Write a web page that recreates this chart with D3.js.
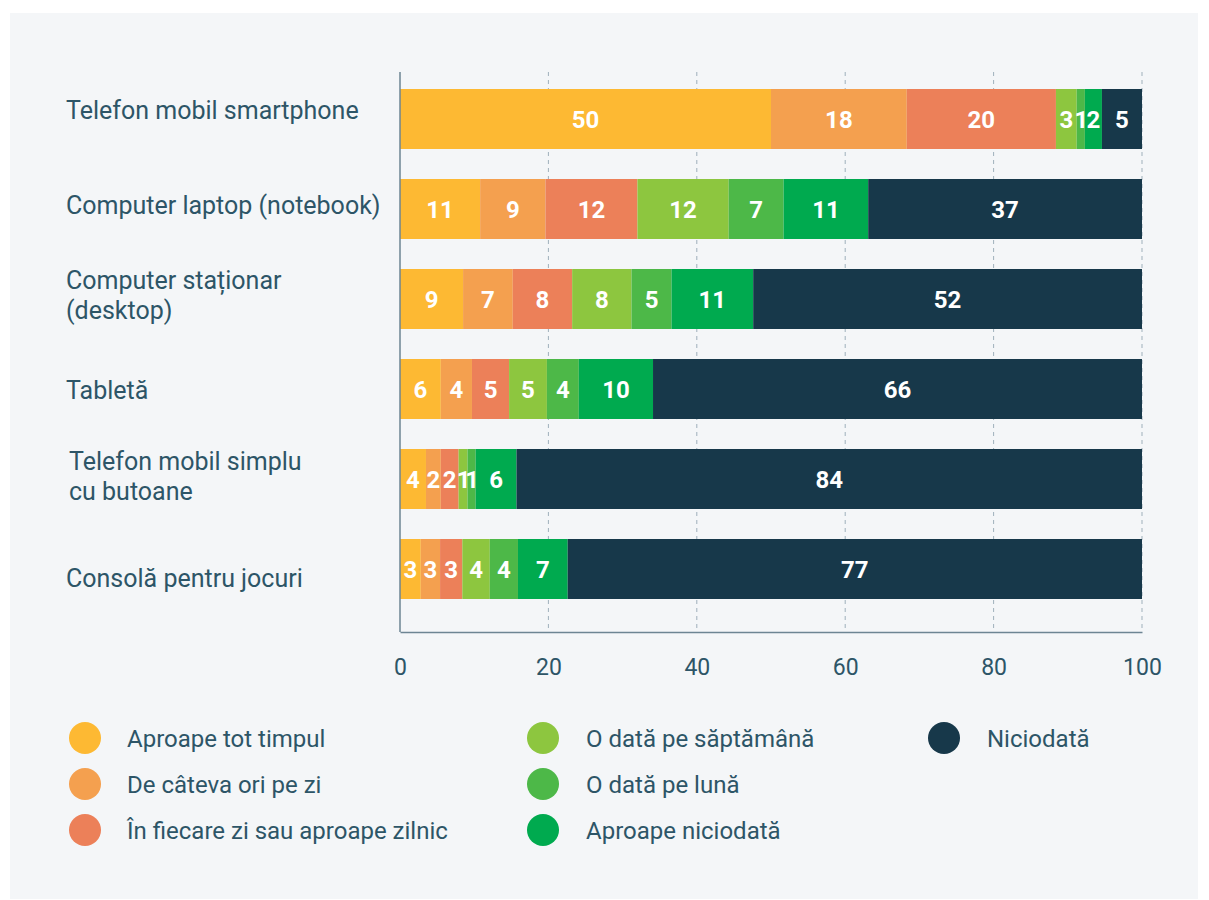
<!DOCTYPE html>
<html>
<head>
<meta charset="utf-8">
<script src="https://cdn.jsdelivr.net/npm/d3@7"></script>
<style>
  body { margin: 0; background: #fff; font-family: Roboto, "Noto Sans", sans-serif; }
  .cat { fill: #2d5567; font-size: 25px; }
  .val { fill: #fff; font-size: 24px; font-weight: bold; }
  .leg { fill: #2d5567; font-size: 24px; }
</style>
</head>
<body>
<svg id="chart" width="1209" height="900"></svg>
<script>
  // categories (one per bar), line breaks as in the original
  const categories = [
    ["Telefon mobil smartphone"],
    ["Computer laptop (notebook)"],
    ["Computer staționar", "(desktop)"],
    ["Tabletă"],
    ["Telefon mobil simplu", "cu butoane"],
    ["Consolă pentru jocuri"],
  ];

  const series = [
    "Aproape tot timpul",
    "De câteva ori pe zi",
    "În fiecare zi sau aproape zilnic",
    "O dată pe săptămână",
    "O dată pe lună",
    "Aproape niciodată",
    "Niciodată",
  ];

  const colors = ["#fdb933", "#f4a04f", "#ec8059", "#8dc63f", "#4db848", "#00aa4f", "#17384a"];

  // percent per series, one array per category
  const smartphone = [50.0, 18.3, 20.1, 2.8, 1.1, 2.3, 5.4];
  const laptop     = [10.8, 8.8, 12.4, 12.3, 7.4, 11.4, 36.9];
  const desktop    = [8.5, 6.7, 8.0, 8.0, 5.4, 11.0, 52.4];
  const tableta    = [5.5, 4.2, 5.0, 5.1, 4.3, 10.0, 65.9];
  const simplu     = [3.5, 2.0, 2.4, 1.2, 1.1, 5.5, 84.3];
  const consola    = [2.8, 2.6, 3.0, 3.7, 3.8, 6.7, 77.4];
  const values = [smartphone, laptop, desktop, tableta, simplu, consola];

  const xTicks = [0, 20, 40, 60, 80, 100];

  // small vertical nudges of the category labels, as laid out in the original
  const labelNudge = [-9, -4, -4, 1, -3, 9];

  const svg = d3.select("#chart");
  svg.append("rect").attr("x", 10).attr("y", 13).attr("width", 1188).attr("height", 886)
    .attr("fill", "#f4f6f8");

  const x = d3.scaleLinear().domain([0, 100]).range([400, 1142]);
  const y = d3.scaleBand().domain(d3.range(categories.length)).range([74, 614]).paddingInner(1 / 3).paddingOuter(1 / 6);
  const plotTop = 72, plotBottom = 632;

  // dashed grid
  svg.append("g").selectAll("line").data(xTicks.slice(1)).join("line")
    .attr("x1", d => x(d)).attr("x2", d => x(d))
    .attr("y1", plotTop).attr("y2", plotBottom)
    .attr("stroke", "#9fb0bb").attr("stroke-width", 1).attr("stroke-dasharray", "4,4");

  // stacked bars
  const rows = values.map(v => {
    let acc = 0;
    return v.map((d, i) => { const s = { i, v: d, x0: acc, x1: acc + d }; acc += d; return s; });
  });

  const g = svg.append("g");
  rows.forEach((row, r) => {
    const rg = g.append("g");
    rg.selectAll("rect").data(row).join("rect")
      .attr("x", d => x(d.x0)).attr("width", d => x(d.x1) - x(d.x0))
      .attr("y", y(r)).attr("height", y.bandwidth())
      .attr("fill", d => colors[d.i]);
    rg.selectAll("text").data(row).join("text")
      .attr("class", "val")
      .attr("x", d => (x(d.x0) + x(d.x1)) / 2)
      .attr("y", y(r) + y.bandwidth() / 2)
      .attr("dy", "0.36em").attr("text-anchor", "middle")
      .attr("letter-spacing", d => d.v < 1.5 ? -1 : 0)
      .text(d => Math.round(d.v));
  });

  // category labels
  categories.forEach((lines, r) => {
    const lx = r === 4 ? 69 : 66;
    const t = svg.append("text").attr("class", "cat")
      .attr("x", lx)
      .attr("y", y(r) + y.bandwidth() / 2 + labelNudge[r] - (lines.length - 1) * 15);
    lines.forEach((l, k) => t.append("tspan").attr("x", lx).attr("dy", k === 0 ? "0.36em" : 30).text(l));
  });

  // axes lines
  svg.append("line").attr("x1", 400).attr("x2", 400).attr("y1", plotTop).attr("y2", plotBottom)
    .attr("stroke", "#6d8593").attr("stroke-width", 1.5);
  const xAxis = svg.append("g").attr("transform", `translate(0,${plotBottom})`)
    .call(d3.axisBottom(x).tickValues(xTicks).tickSize(0).tickPadding(27));
  xAxis.select(".domain").attr("stroke", "#6d8593").attr("stroke-width", 1.5);
  xAxis.selectAll(".tick text")
    .attr("font-family", "Roboto").attr("font-size", 23).attr("fill", "#2d5567");

  // legend
  const legCols = [[85, 127], [543, 586], [944, 987]];
  const legPos = [[0, 0], [0, 1], [0, 2], [1, 0], [1, 1], [1, 2], [2, 0]];
  const lg = svg.append("g");
  series.forEach((s, i) => {
    const [c, rr] = legPos[i];
    const cy = 738 + rr * 46;
    lg.append("circle").attr("cx", legCols[c][0]).attr("cy", cy).attr("r", 16).attr("fill", colors[i]);
    lg.append("text").attr("class", "leg").attr("x", legCols[c][1]).attr("y", cy).attr("dy", "0.36em").text(s);
  });
</script>
</body>
</html>
